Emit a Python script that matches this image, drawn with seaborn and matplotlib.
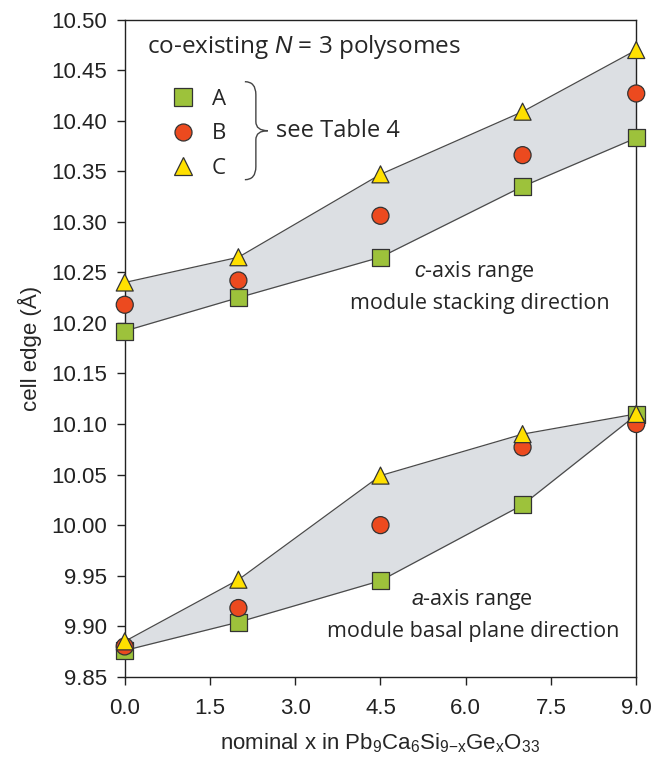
import numpy as np
import pandas as pd
import matplotlib
matplotlib.use("Agg")
import matplotlib.pyplot as plt
import seaborn as sns
from matplotlib.path import Path
from matplotlib.patches import PathPatch

# ---- data ----
x_nominal = [0.0, 2.0, 4.5, 7.0, 9.0]
c_A = [10.192, 10.225, 10.265, 10.335, 10.383]
c_B = [10.218, 10.242, 10.306, 10.366, 10.427]
c_C = [10.240, 10.265, 10.347, 10.409, 10.470]
a_A = [9.876, 9.904, 9.945, 10.020, 10.109]
a_B = [9.880, 9.918, 10.000, 10.077, 10.100]
a_C = [9.885, 9.946, 10.049, 10.090, 10.110]
series_names = ["A", "B", "C"]
x_ticks = [0.0, 1.5, 3.0, 4.5, 6.0, 7.5, 9.0]
y_ticks = [9.85, 9.90, 9.95, 10.00, 10.05, 10.10, 10.15, 10.20, 10.25,
           10.30, 10.35, 10.40, 10.45, 10.50]

rows = []
for axis_name, vals in [("c", [c_A, c_B, c_C]), ("a", [a_A, a_B, a_C])]:
    for name, v in zip(series_names, vals):
        for xi, yi in zip(x_nominal, v):
            rows.append({"x": xi, "cell": yi, "polysome": name, "axis": axis_name})
df = pd.DataFrame(rows)

sns.set_style("ticks")
plt.rcParams["font.family"] = ["Liberation Sans", "DejaVu Sans"]
plt.rcParams["mathtext.fontset"] = "custom"
plt.rcParams["mathtext.rm"] = "Liberation Sans"
plt.rcParams["mathtext.it"] = "Liberation Sans:italic"

fig = plt.figure(figsize=(6.6, 7.57), dpi=100)
ax = fig.add_axes([0.189, 0.106, 0.775, 0.868])

band_face = "#dcdfe3"
band_edge = "#4a4a4a"
for lo, hi in [(c_A, c_C), (a_A, a_C)]:
    ax.fill_between(x_nominal, lo, hi, color=band_face, zorder=1, lw=0)
    ax.plot(x_nominal, lo, color=band_edge, lw=0.9, zorder=2)
    ax.plot(x_nominal, hi, color=band_edge, lw=0.9, zorder=2)

palette = {"A": "#9dc23b", "B": "#ec4a1f", "C": "#ffe000"}
markers = {"A": "s", "B": "o", "C": "^"}
sns.scatterplot(data=df, x="x", y="cell", hue="polysome", style="polysome",
                palette=palette, markers=markers, s=150, edgecolor="#333333",
                linewidth=0.9, zorder=3, ax=ax, legend=True)
for coll in ax.collections:
    coll.set_clip_on(False)

ax.set_xlim(0, 9)
ax.set_ylim(9.85, 10.50)
ax.set_xticks(x_ticks)
ax.set_xticklabels([f"{t:.1f}" for t in x_ticks])
ax.set_yticks(y_ticks)
ax.set_yticklabels([f"{t:.2f}" for t in y_ticks])
ax.tick_params(axis="both", direction="out", length=6, width=1, labelsize=16,
               colors="#222222")
ax.tick_params(axis="x", pad=9)
ax.tick_params(axis="y", pad=7)
for sp in ax.spines.values():
    sp.set_visible(True)
    sp.set_color("#222222")
    sp.set_linewidth(1)

ax.set_xlabel("nominal x in Pb$_{9}$Ca$_{6}$Si$_{9\\mathrm{-x}}$Ge$_{\\mathrm{x}}$O$_{33}$",
              fontsize=16, labelpad=9)
ax.set_ylabel("cell edge (Å)", fontsize=16, labelpad=6)

cal = ["Open Sans", "DejaVu Sans"]
leg = ax.legend(loc="upper left", bbox_to_anchor=(0.083, 0.895), frameon=False,
                fontsize=16, handletextpad=0.6, labelspacing=0.62,
                handlelength=1.4, borderpad=0, borderaxespad=0,
                markerscale=1.0, title=None, prop={"family": cal, "size": 16})

def fx(px):
    return (px - 125) / 511.0
def fy(py):
    return (677 - py) / 657.0

ax.text(0.043, fy(47), "co-existing $\\it{N}$ = 3 polysomes", transform=ax.transAxes,
        fontsize=17.5, family=cal, va="center", ha="left")
ax.text(fx(276), fy(131), "see Table 4", transform=ax.transAxes, fontsize=17,
        family=cal, va="center", ha="left")

# brace
verts = [(fx(245), fy(82)), (fx(256), fy(82)), (fx(256), fy(95)),
         (fx(256), fy(122)), (fx(256), fy(131)), (fx(268), fy(131)),
         (fx(256), fy(131)), (fx(256), fy(140)),
         (fx(256), fy(167)), (fx(256), fy(180)), (fx(245), fy(180))]
codes = [Path.MOVETO, Path.CURVE3, Path.CURVE3,
         Path.LINETO, Path.CURVE3, Path.CURVE3,
         Path.CURVE3, Path.CURVE3,
         Path.LINETO, Path.CURVE3, Path.CURVE3]
ax.add_patch(PathPatch(Path(verts, codes), transform=ax.transAxes, fill=False,
                       edgecolor="#444444", lw=1.0))

ax.text(fx(474), fy(272), "$\\it{c}$-axis range", transform=ax.transAxes,
        fontsize=15.5, family=cal, va="center", ha="center")
ax.text(fx(480), fy(304), "module stacking direction", transform=ax.transAxes,
        fontsize=15.5, family=cal, va="center", ha="center")
ax.text(fx(472), fy(600), "$\\it{a}$-axis range", transform=ax.transAxes,
        fontsize=15.5, family=cal, va="center", ha="center")
ax.text(fx(473), fy(632), "module basal plane direction", transform=ax.transAxes,
        fontsize=15.5, family=cal, va="center", ha="center")

fig.savefig("out.png", dpi=100, facecolor="white")
